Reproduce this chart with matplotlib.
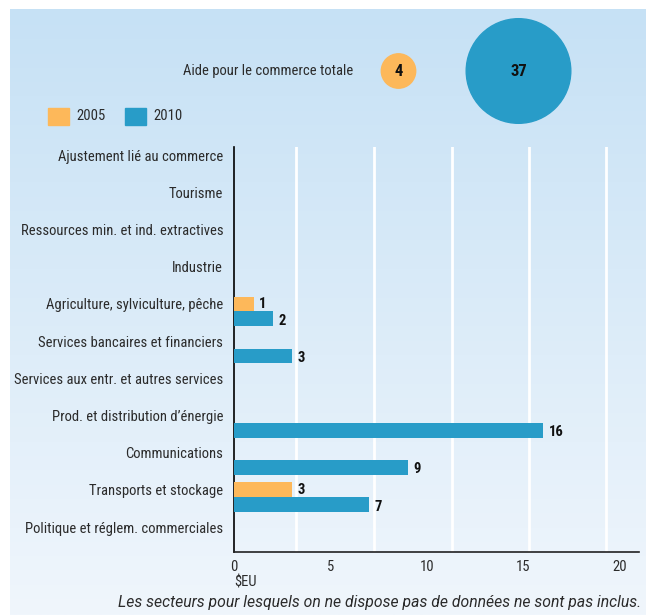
import numpy as np
import matplotlib
matplotlib.use('Agg')
import matplotlib.pyplot as plt
from matplotlib.patches import Circle, Rectangle

# données
categories = [
    "Ajustement lié au commerce",
    "Tourisme",
    "Ressources min. et ind. extractives",
    "Industrie",
    "Agriculture, sylviculture, pêche",
    "Services bancaires et financiers",
    "Services aux entr. et autres services",
    "Prod. et distribution d’énergie",
    "Communications",
    "Transports et stockage",
    "Politique et réglem. commerciales",
]
val_2005 = [None, None, None, None, 1, None, None, None, None, 3, None]
val_2010 = [None, None, None, None, 2, 3, None, 16, 9, 7, None]
total_2005 = 4
total_2010 = 37
years = ["2005", "2010"]

c05 = '#fdb85a'
c10 = '#289cc8'
txt = '#2b2b2b'

plt.rcParams['font.family'] = ['Roboto Condensed', 'DejaVu Sans']

W, H = 646, 615
fig = plt.figure(figsize=(W / 100, H / 100), dpi=100)

# fond dégradé
bg = fig.add_axes([9.5 / W, 0, 1 - 9.5 / W, 1 - 9 / H], zorder=-10)
top = np.array([0xc6, 0xe1, 0xf5]) / 255
bot = np.array([0xf0, 0xf6, 0xfc]) / 255
t = np.linspace(0, 1, 256)[:, None]
grad = (top[None, :] * (1 - t) + bot[None, :] * t)[:, None, :]
bg.imshow(grad, aspect='auto', extent=[0, 1, 0, 1])
bg.axis('off')

# graphique principal
ax = fig.add_axes([234.3 / W, 1 - 552 / H, (639 - 234.3) / W, (552 - 147) / H])
ax.set_facecolor('none')
y = np.arange(len(categories))
bh = 0.40
for i, (a, b) in enumerate(zip(val_2005, val_2010)):
    if a is not None:
        ax.barh(i, a, height=bh, color=c05, zorder=3)
        ax.text(a + 0.3, i, str(a), va='center', ha='left', fontsize=10.5,
                color='#111', fontweight='bold', zorder=4)
    if b is not None:
        ax.barh(i + bh, b, height=bh, color=c10, zorder=3)
        ax.text(b + 0.3, i + bh + 0.05, str(b), va='center', ha='left', fontsize=10.5,
                color='#111', fontweight='bold', zorder=4)

ax.set_xlim(0, 21)
ax.set_ylim(10.67, -0.22)
ax.set_xticks([0, 5, 10, 15, 20])
ax.set_xticks([3.2, 7.25, 11.3, 15.3, 19.3], minor=True)
ax.grid(which='minor', axis='x', color='white', linewidth=2, zorder=1)
ax.set_yticks(y)
ax.set_yticklabels(categories, fontsize=10.5, color=txt)
ax.tick_params(axis='both', which='both', length=0)
ax.tick_params(axis='y', pad=8)
ax.tick_params(axis='x', pad=6, labelsize=10.5, labelcolor=txt)
for s in ['top', 'right']:
    ax.spines[s].set_visible(False)
ax.spines['left'].set_color('black')
ax.spines['bottom'].set_color('#222')
ax.spines['left'].set_linewidth(1.2)
ax.spines['bottom'].set_linewidth(1.2)
ax.text(0, -0.075, "$EU", transform=ax.transAxes, ha='left', va='center',
        fontsize=10.5, color=txt)

# couche en pixels pour le haut
ov = fig.add_axes([0, 0, 1, 1], zorder=5)
ov.set_xlim(0, W)
ov.set_ylim(H, 0)
ov.set_aspect('equal')
ov.axis('off')

k = 17.2
for val, cx, col in [(total_2005, 398.5, c05), (total_2010, 518.5, c10)]:
    r = k * np.sqrt(val) / 2
    ov.add_patch(Circle((cx, 71), r, color=col))
    ov.text(cx, 71, str(val), ha='center', va='center', fontsize=12,
            fontweight='bold', color='#111')
ov.text(353, 71, "Aide pour le commerce totale", ha='right', va='center',
        fontsize=10.5, color=txt)

for x0, yr, col in [(48, years[0], c05), (125, years[1], c10)]:
    ov.add_patch(Rectangle((x0, 108), 20.5, 17, color=col))
    ov.text(x0 + 28, 116.5, yr, ha='left', va='center', fontsize=10.5, color=txt)

ov.text(641, 603, "Les secteurs pour lesquels on ne dispose pas de données ne sont pas inclus.",
        ha='right', va='center', fontsize=11.3, style='italic', color=txt,
        family=['Roboto', 'DejaVu Sans'])

fig.savefig('out.png', dpi=100)
